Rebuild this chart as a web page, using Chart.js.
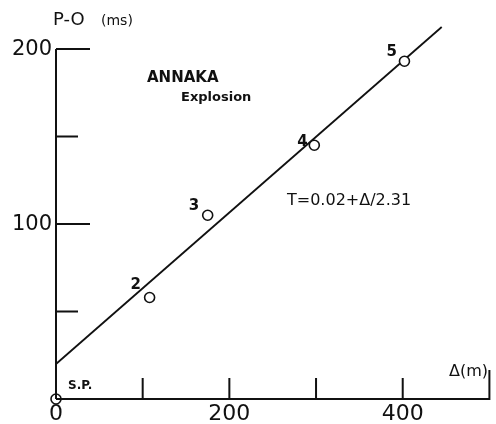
<!DOCTYPE html>
<html lang="en">
  <head>
    <meta charset="utf-8">
    <title>ANNAKA Explosion</title>
    <style>
      html, body {
        margin: 0;
        padding: 0;
        background: #fff;
      }
      .chart-box {
        width: 496px;
        height: 424px;
      }
    </style>
    <script src="https://cdn.jsdelivr.net/npm/chart.js@4.4.4/dist/chart.umd.min.js"></script>
  </head>
  <body>
    <div class="chart-box">
      <canvas id="travel-plot"></canvas>
    </div>
    <script>
      // observed points: distance (m) and P-O time (ms)
      const point_names = ['S.P.', '2', '3', '4', '5'];
      const distance_m = [0, 108, 175, 298, 402];
      const time_ms = [0, 58, 105, 145, 193];

      // fitted line T = 0.02 + Δ/2.31, end points
      const line_distance = [0, 445];
      const line_time = [20, 212.6];

      const x_ticks = [100, 200, 300, 400];
      const x_labels = [0, 200, 400];
      const y_ticks = [50, 100, 150, 200];
      const y_labels = [100, 200];

      const ink = '#111';
      const font_family = '"DejaVu Sans", sans-serif';

      document.addEventListener('DOMContentLoaded', function() {
        const ctx = document.getElementById('travel-plot');

        const hand_axes = {
          id: 'hand_axes',
          afterDraw(chart) {
            const c = chart.ctx;
            const x = chart.scales.x;
            const y = chart.scales.y;
            const x0 = x.getPixelForValue(0);
            const y0 = y.getPixelForValue(0);
            c.save();
            c.strokeStyle = ink;
            c.fillStyle = ink;
            c.lineWidth = 2;
            c.beginPath();
            // y axis
            c.moveTo(x0, y0);
            c.lineTo(x0, y.getPixelForValue(200));
            // x axis
            c.moveTo(x0, y0);
            c.lineTo(x.getPixelForValue(500), y0);
            c.lineTo(x.getPixelForValue(500), y0 - 29);
            y_ticks.forEach(v => {
              const len = y_labels.includes(v) ? 34 : 22;
              c.moveTo(x0, y.getPixelForValue(v));
              c.lineTo(x0 + len, y.getPixelForValue(v));
            });
            x_ticks.forEach(v => {
              c.moveTo(x.getPixelForValue(v), y0);
              c.lineTo(x.getPixelForValue(v), y0 - 21);
            });
            c.stroke();

            c.textBaseline = 'middle';
            c.font = '21px ' + font_family;
            c.textAlign = 'right';
            y_labels.forEach(v => {
              c.fillText(String(v), x0 - 4, y.getPixelForValue(v) + 1);
            });
            c.textAlign = 'center';
            c.font = '22px ' + font_family;
            x_labels.forEach(v => {
              c.fillText(String(v), x.getPixelForValue(v), y0 + 15);
            });

            // axis titles
            c.textAlign = 'left';
            c.font = '18px ' + font_family;
            c.fillText('P-O', 53, 20);
            c.font = '14px ' + font_family;
            c.fillText('(ms)', 101, 21);
            c.font = '16px ' + font_family;
            c.fillText('Δ(m)', 449, 372);

            // annotations
            c.font = 'bold 15px ' + font_family;
            c.fillText('ANNAKA', 147, 78);
            c.font = 'bold 13px ' + font_family;
            c.fillText('Explosion', 181, 98);
            c.font = '16px ' + font_family;
            c.fillText('T=0.02+Δ/2.31', 287, 201);

            // point names
            const name_offsets = [[12, -13], [-19, -12], [-19, -9], [-17, -3], [-18, -9]];
            point_names.forEach((name, i) => {
              if (i === 0) {
                c.font = 'bold 12px ' + font_family;
              } else {
                c.font = 'bold 15px ' + font_family;
              }
              const px = x.getPixelForValue(distance_m[i]);
              const py = y.getPixelForValue(time_ms[i]);
              c.fillText(name, px + name_offsets[i][0], py + name_offsets[i][1]);
            });
            c.restore();
          }
        };

        new Chart(ctx, {
          type: 'scatter',
          data: {
            datasets: [
              {
                label: 'Observed',
                data: distance_m.map((d, i) => ({x: d, y: time_ms[i]})),
                pointRadius: 5,
                pointBackgroundColor: '#fff',
                pointBorderColor: ink,
                pointBorderWidth: 1.6,
                showLine: false,
                clip: false,
                order: 0
              },
              {
                label: 'Fit',
                data: line_distance.map((d, i) => ({x: d, y: line_time[i]})),
                showLine: true,
                borderColor: ink,
                borderWidth: 1.8,
                pointRadius: 0,
                clip: false,
                order: 1
              }
            ]
          },
          options: {
            responsive: true,
            maintainAspectRatio: false,
            animation: false,
            layout: {
              padding: {left: 56, right: 1, top: 49, bottom: 25}
            },
            scales: {
              x: {type: 'linear', min: 0, max: 500, display: false},
              y: {type: 'linear', min: 0, max: 200, display: false}
            },
            plugins: {
              legend: {display: false},
              tooltip: {enabled: false}
            }
          },
          plugins: [hand_axes]
        });
      });
    </script>
  </body>
</html>
